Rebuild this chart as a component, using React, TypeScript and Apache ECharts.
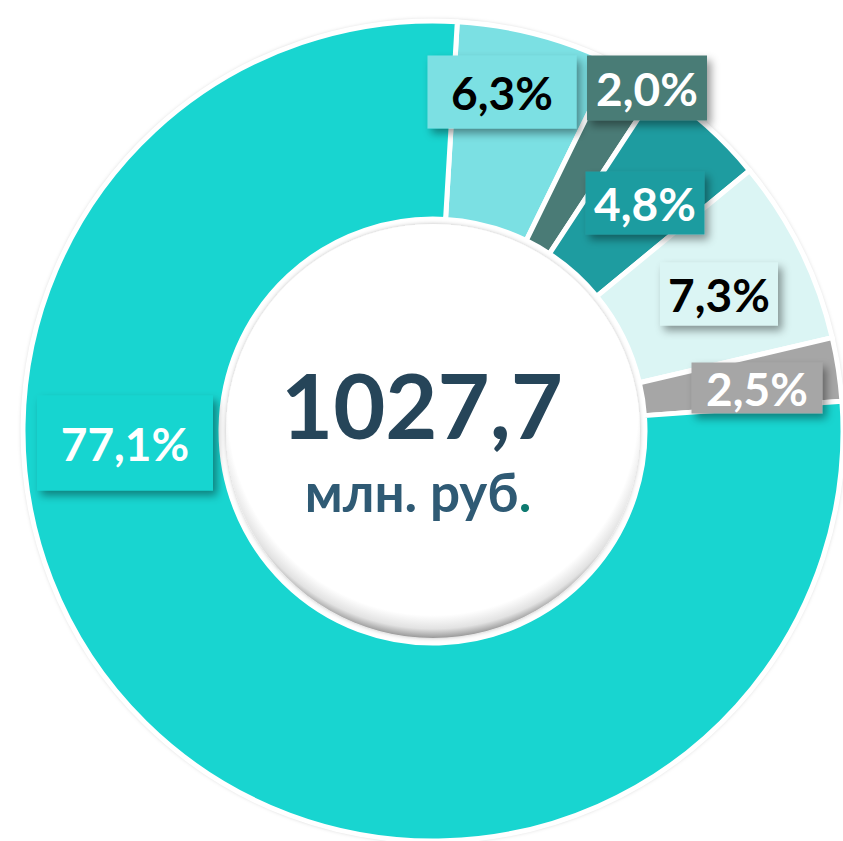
import React, { useEffect, useRef } from "react";
import * as echarts from "echarts";

// ---- data ----
const categories = ["s1", "s2", "s3", "s4", "s5", "s6"];
const shares = [6.3, 2.0, 4.8, 7.3, 2.5, 77.1];
const totalText = "1027,7";
const unitText = "млн. руб";

// ---- styles / layout (not data) ----
const sliceColors = ["#7BE0E3", "#4A7B76", "#1E9CA0", "#DBF5F4", "#A6A6A6", "#18D5D0"];
const labelTextColors = ["#000000", "#ffffff", "#ffffff", "#000000", "#ffffff", "#ffffff"];
const labelCenters = [
  [502, 92],
  [647, 88],
  [645, 203],
  [719, 294],
  [757, 388],
  [125, 443],
];
const labelBoxes = [
  [149, 73],
  [120, 65],
  [119, 63],
  [118, 63],
  [131, 51],
  [176, 95],
];
const CX = 433;
const CY = 431;
const R_OUT = 410;
const R_IN = 212;

const fmt = (v: number) => v.toFixed(1).replace(".", ",") + "%";

export default function App() {
  const ref = useRef<HTMLDivElement>(null);
  useEffect(() => {
    if (!ref.current) return;
    const chart = echarts.init(ref.current, null, { renderer: "svg" });
    const data = shares.map((v, i) => ({
      name: categories[i],
      value: v,
      itemStyle: { color: sliceColors[i] },
      label: {
        color: labelTextColors[i],
        backgroundColor: sliceColors[i],
        width: labelBoxes[i][0],
        height: labelBoxes[i][1],
        lineHeight: labelBoxes[i][1],
        align: "center",
        verticalAlign: "middle",
      },
    }));
    chart.setOption({
      animation: false,
      backgroundColor: "#ffffff",
      graphic: [
        {
          type: "circle",
          z: 0,
          shape: { cx: CX, cy: CY, r: R_OUT + 1 },
          style: {
            fill: "#ffffff",
            shadowBlur: 4,
            shadowColor: "rgba(0,0,0,0.25)",
          },
        },
        {
          type: "circle",
          z: 50,
          shape: { cx: CX, cy: CY, r: R_IN - 5 },
          style: {
            fill: {
              type: "radial",
              x: 0.5,
              y: 0.45,
              r: 0.55,
              colorStops: [
                { offset: 0, color: "#ffffff" },
                { offset: 0.9, color: "#ffffff" },
                { offset: 0.96, color: "#e2e2e2" },
                { offset: 1, color: "#999999" },
              ],
            },
            shadowBlur: 4,
            shadowColor: "rgba(0,0,0,0.25)",
          },
        },
        {
          type: "text",
          z: 60,
          x: 422,
          y: 404,
          style: {
            text: totalText,
            fill: "#264559",
            font: "bold 90px Lato",
            textAlign: "center",
            textVerticalAlign: "middle",
          },
        },
        {
          type: "text",
          z: 60,
          x: 418,
          y: 491,
          style: {
            text: "{a|" + unitText + "}{b|.}",
            textAlign: "center",
            textVerticalAlign: "middle",
            rich: {
              a: { fill: "#2F5A74", font: "bold 53px Lato" },
              b: { fill: "#0E7A70", font: "bold 53px Lato" },
            },
          },
        },
      ],
      series: [
        {
          type: "pie",
          z: 2,
          center: [CX, CY],
          radius: [R_IN, R_OUT],
          startAngle: 86.6,
          clockwise: true,
          avoidLabelOverlap: false,
          itemStyle: {
            borderColor: "#ffffff",
            borderWidth: 5,
          },
          label: {
            show: true,
            position: "inside",
            formatter: (p: any) => fmt(p.value),
            fontFamily: "Lato",
            fontWeight: "bold",
            fontSize: 46,
            padding: 0,
            shadowBlur: 8,
            shadowColor: "rgba(0,0,0,0.4)",
            shadowOffsetX: 4,
            shadowOffsetY: 5,
            textShadowColor: "transparent",
          },
          labelLine: { show: false },
          labelLayout: (params: any) => ({
            x: labelCenters[params.dataIndex][0],
            y: labelCenters[params.dataIndex][1],
            align: "center",
            verticalAlign: "middle",
          }),
          emphasis: { disabled: true },
          data,
        },
      ],
    });
    return () => chart.dispose();
  }, []);
  return (
    <div
      ref={ref}
      style={{ position: "absolute", left: 0, top: 0, width: 843, height: 841 }}
    />
  );
}
